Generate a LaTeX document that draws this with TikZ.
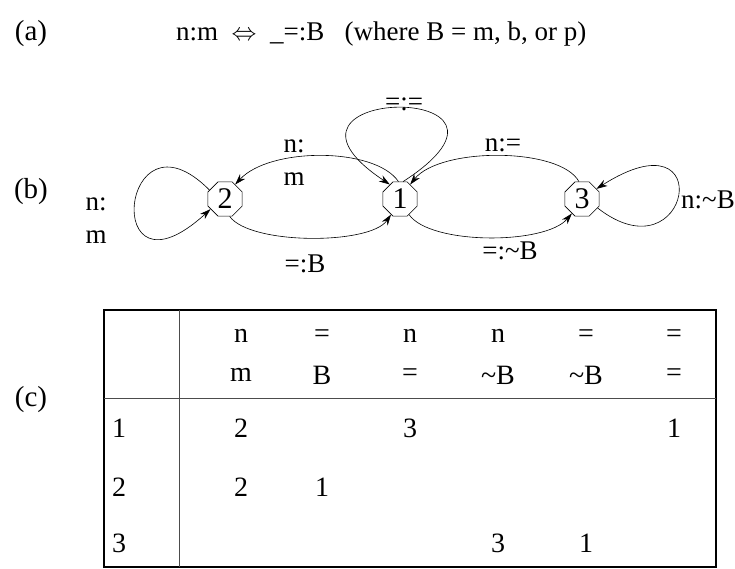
\documentclass[tikz,border=0pt]{standalone}
\usepackage{fontspec}
\setmainfont{Liberation Serif}
\usetikzlibrary{shapes.geometric,arrows.meta}
\begin{document}
\begin{tikzpicture}[x=1pt,y=-1pt,
  st/.style={regular polygon, regular polygon sides=8, draw, line width=0.6pt, minimum size=37pt, inner sep=0pt, font=\fontsize{30}{30}\selectfont},
  lbl/.style={font=\fontsize{27}{33}\selectfont, inner sep=0pt, align=left},
  tag/.style={font=\fontsize{29}{29}\selectfont, inner sep=0pt},
  cell/.style={font=\fontsize{28}{28}\selectfont, inner sep=0pt},
  edge/.style={line width=0.6pt, -{Stealth[length=11pt,width=7pt]}},
  outer/.style={line width=1.8pt},
  inner/.style={line width=0.8pt, black!70}]
\useasboundingbox (0,0) rectangle (735,569);
% (a)
\node[tag] (ta) at (31,34) {(a)};
\node[tag, anchor=west, font=\fontsize{27}{27}\selectfont] (rule) at (176,34) {n:m\ \ $\Leftrightarrow$\ \ \_=:B\ \ \ (where B = m, b, or p)};
% (b)
\node[tag] (tb) at (31,192) {(b)};
\node[st] (n2) at (225,199) {2};
\node[st] (n1) at (400,199) {1};
\node[st] (n3) at (582,199) {3};
\draw[edge] (n1.80) .. controls (560,80) and (240,85) .. (n1.125);
\draw[edge] (n1.95) .. controls (375,147) and (270,147) .. (n2.55);
\draw[edge] (n2.285) .. controls (250,245) and (370,245) .. (n1.240);
\draw[edge] (n3.100) .. controls (560,147) and (440,147) .. (n1.55);
\draw[edge] (n1.300) .. controls (430,245) and (545,245) .. (n3.235);
\draw[edge] (n2.150) .. controls (120,100) and (100,310) .. (n2.215);
\draw[edge] (n3.330) .. controls (690,280) and (720,110) .. (n3.35);
\node[lbl] (l1) at (404,104) {=:=};
\node[lbl] (l2) at (294,163) {n:\\m};
\node[lbl] (l3) at (96,221) {n:\\m};
\node[lbl] (l4) at (305,264) {=:B};
\node[lbl] (l5) at (503,145) {n:=};
\node[lbl] (l6) at (510,251) {=:\textasciitilde B};
\node[lbl, anchor=east] (l7) at (735,200) {n:\textasciitilde B};
% (c)
\node[tag] (tc) at (31,400) {(c)};
\draw[outer] (104,310) rectangle (716,567);
\draw[inner] (179,310) -- (179,567);
\draw[inner] (104,398) -- (716,398);
\foreach \x/\a/\b [count=\i] in {241/n/m, 322/=/B, 410/n/=, 498/n/\textasciitilde B, 586/=/\textasciitilde B, 674/=/=}{
  \node[cell] (h\i a) at (\x,336) {\a};
  \node[cell] (h\i b) at (\x,375) {\b};
}
\node[cell] (r1) at (119,428) {1};
\node[cell] (r2) at (119,487) {2};
\node[cell] (r3) at (119,543) {3};
\node[cell] (c11) at (241,428) {2};
\node[cell] (c13) at (410,428) {3};
\node[cell] (c16) at (674,428) {1};
\node[cell] (c21) at (241,487) {2};
\node[cell] (c22) at (322,487) {1};
\node[cell] (c34) at (498,543) {3};
\node[cell] (c35) at (586,543) {1};
\end{tikzpicture}
\end{document}
